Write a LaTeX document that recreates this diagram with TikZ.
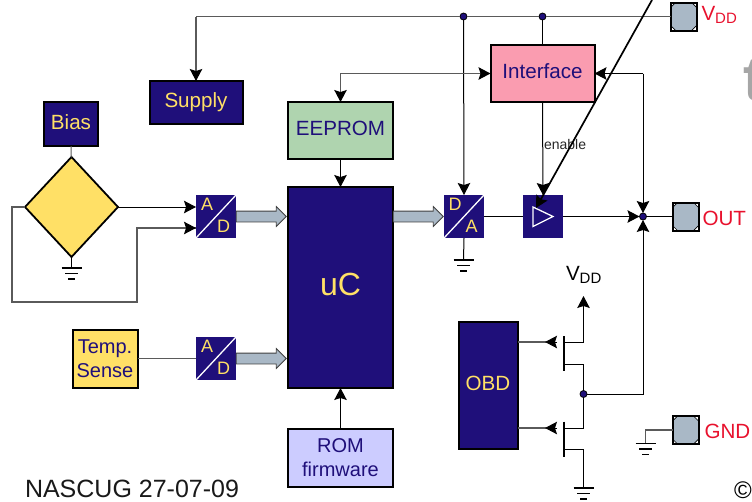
\documentclass[tikz,border=0pt]{standalone}
\usepackage{fontspec}
\setmainfont{Liberation Sans}
\usepackage{xcolor}
\usetikzlibrary{positioning,calc,arrows.meta,shapes.geometric,shapes.arrows}
\definecolor{navy}{HTML}{1F0F7A}
\definecolor{geel}{HTML}{FFE066}
\definecolor{roze}{HTML}{FA9CB0}
\definecolor{groen}{HTML}{AFD4AF}
\definecolor{lila}{HTML}{CCCCFF}
\definecolor{leigrijs}{HTML}{A9B8C6}
\definecolor{draad}{HTML}{5A5A5A}
\definecolor{rood}{HTML}{E8112D}
\newcommand{\gnd}[1]{%
  \draw[line width=1.3pt] ($(#1)+(-10,0)$) -- ++(20,0);
  \draw[line width=1.3pt] ($(#1)+(-6.5,5.5)$) -- ++(13,0);
  \draw[line width=1.3pt] ($(#1)+(-3.5,11)$) -- ++(7,0);
}
\begin{document}
\begin{tikzpicture}[
      x=1pt,y=-1pt,
      every node/.style={font=\fontsize{20.6}{23}\selectfont,inner sep=0pt,outer sep=0pt},
      box/.style={draw=black,line width=2pt,text=navy,align=center},
      dark/.style={box,fill=navy,text=geel},
      oneline/.style={text height=15pt,text depth=5pt},
      conv/.style={fill=navy,minimum width=40pt,minimum height=43pt},
      pad/.style={draw=black,line width=2pt,fill=white,minimum width=26pt,minimum height=28pt,
        path picture={
          \fill[leigrijs,draw=black,line width=.7pt]
            ($(path picture bounding box.north west)+(5,0)$) -- ($(path picture bounding box.north east)+(-5,0)$)
            -- ($(path picture bounding box.north east)+(0,5)$) -- ($(path picture bounding box.south east)+(0,-5)$)
            -- ($(path picture bounding box.south east)+(-5,0)$) -- ($(path picture bounding box.south west)+(5,0)$)
            -- ($(path picture bounding box.south west)+(0,-5)$) -- ($(path picture bounding box.north west)+(0,5)$) -- cycle;
        }},
      padlbl/.style={text=rood,anchor=west},
      dot/.style={circle,fill=navy,draw=black,line width=.8pt,minimum size=7pt},
      wire/.style={line width=1pt,black},
      gwire/.style={line width=1.1pt,draw=draad},
      fat/.style={single arrow,draw=black!75,line width=.8pt,fill=leigrijs,minimum height=50pt,
        inner ysep=5pt,inner xsep=0pt,single arrow head extend=4.5pt,single arrow head indent=0pt},
      tip/.style={-{Stealth[length=12pt,width=12.5pt,inset=2pt,color=black]}},
      pit/.style={{Stealth[length=12pt,width=12.5pt,inset=2pt,color=black]}-},
      bar/.style={line width=1.6pt,black},
    ]
  \useasboundingbox (0,0) rectangle (752,501);

  \node[dark,oneline,minimum width=54pt,minimum height=44pt] (bias) at (71,124) {Bias};
  \node[diamond,draw=black,line width=1.8pt,fill=geel,minimum width=93pt,minimum height=100pt] (det) at (71.5,207) {};
  \node[dark,minimum width=93pt,minimum height=43pt] (supply) at (196,102.5) {Supply};
  \node[box,oneline,fill=groen,minimum width=105pt,minimum height=57pt] (eeprom) at (340.5,130.5) {EEPROM};
  \node[dark,minimum width=105pt,minimum height=201pt,text height=23pt,text depth=8pt,font=\fontsize{32}{36}\selectfont] (uc) at (340.5,287.5) {uC};
  \node[box,fill=lila,minimum width=105pt,minimum height=58pt,font=\fontsize{20}{24}\selectfont] (rom) at (340.5,458) {ROM\\firmware};
  \node[box,fill=geel,minimum width=65pt,minimum height=58pt,font=\fontsize{20}{24}\selectfont] (temp) at (105,358.5) {Temp.\\Sense};
  \node[box,oneline,fill=roze,minimum width=104pt,minimum height=57pt] (iface) at (542.5,73.5) {Interface};
  \node[dark,oneline,minimum width=59pt,minimum height=127pt] (obd) at (488,385) {OBD};

  % omzetters
  \foreach \nm/\xc/\yc/\up/\lo in {ad1/216/216.5/A/D,ad2/216/358.5/A/D,da/464/216.5/D/A}{
    \node[conv] (\nm) at (\xc,\yc) {};
    \draw[white,line width=1.3pt] (\nm.south west) -- (\nm.north east);
    \node[text=geel,font=\fontsize{18}{20}\selectfont] at ($(\nm)+(-9,-12.5)$) {\up};
    \node[text=geel,font=\fontsize{18}{20}\selectfont] at ($(\nm)+(7.5,9.5)$) {\lo};
  }
  \node[conv] (buf) at (543,216.5) {};
  \draw[white,line width=1.3pt,line join=miter] ($(buf)+(-10,-9.5)$) -- ($(buf)+(10,0)$) -- ($(buf)+(-10,10)$) -- cycle;

  \node[fat] (bus1) at (258.5,216.5) {};
  \node[fat] (bus2) at (258.5,358.5) {};
  \node[fat] (bus3) at (415.5,216.5) {};

  \node[pad] (pvdd) at (683.5,16.5) {};
  \node[pad] (pout) at (685.5,216.5) {};
  \node[pad] (pgnd) at (685.5,430) {};
  \node[padlbl] (lvdd) at (701.5,15) {V\raisebox{-3.5pt}{\fontsize{15}{15}\selectfont DD}};
  \node[padlbl] (lout) at (702.5,218) {OUT};
  \node[padlbl] (lgnd) at (704.5,431) {GND};

  \node[dot] (n1) at (463.5,16.5) {};
  \node[dot] (n2) at (542.5,16.5) {};
  \node[dot] (n3) at (643,216.5) {};
  \node[dot] (n4) at (583.5,394) {};

  \coordinate (kink) at (12,207);
  \coordinate (kink2) at (12,302);
  \coordinate (kink3) at (137,302);
  \coordinate (kink4) at (137,228);
  \coordinate (in2) at (196,228);
  \coordinate (railend) at (196,16.5);
  \coordinate (fork) at (462,73.5);
  \coordinate (back) at (643,73.5);
  \coordinate (top) at (652,0);
  \coordinate (tp) at (536,208);
  \coordinate (g1) at (71.5,268);
  \coordinate (g2) at (463.5,260);
  \coordinate (g3) at (583.5,488);
  \coordinate (g4) at (645.5,443.5);

  % voeding en bus
  \draw[gwire] (pvdd) -- (n2) -- (n1) -- (railend);
  \draw[gwire,tip] (railend) -- (supply.north);
  \draw[wire,tip] (n1) -- (da.north);
  \draw[wire] (n2) -- (iface.north);
  \draw[gwire,pit] (eeprom.north) |- (fork);
  \draw[gwire,tip] (fork) -- (iface.west);
  \draw[wire,tip] (eeprom.south) -- (uc.north);
  \draw[wire,tip] (rom.north) -- (uc.south);
  \draw[wire,tip] (iface.south) -- (buf.north);
  \node[font=\fontsize{14}{16}\selectfont,text=black!85,anchor=west] (enable) at (544,144) {enable};
  \draw[line width=1.7pt,tip] (top) -- (tp);

  % ingangen
  \draw[gwire] (bias) -- (det);
  \draw[wire,tip] (det.east) -- (ad1.west |- det.east);
  \draw[gwire] (det.west) -- (kink) -- (kink2) -- (kink3) -- (kink4) -- (in2);
  \draw[gwire,tip] (kink4) -- (in2);
  \draw[gwire] (temp) -- (ad2);
  \draw[wire] (det.south) -- (g1);
  \gnd{g1}
  \draw[wire] (da.south) -- (g2);
  \gnd{g2}

  % uitgang
  \draw[wire] (da) -- (buf);
  \draw[wire,tip] (buf) -- (n3);
  \draw[wire] (n3) -- (pout);
  \draw[wire,tip] (back) -- (n3);
  \draw[wire,tip] (back) -- (iface.east);
  \draw[wire,tip] (n4) -| (n3);

  % uitgangstrap
  \coordinate (gate1) at (518,342);
  \coordinate (gate2) at (518,428);
  \draw[gwire] (gate1) -- (546,342);
  \draw[gwire] (gate2) -- (546,428);
  \draw[wire,pit] (545,342) -- (557,342);
  \draw[wire,pit] (545,428) -- (557,428);
  \draw[bar] (564,336) -- (564,371);
  \draw[bar] (564,421.5) -- (564,457);
  \draw[wire,tip] (564,342.5) -- (583.5,342.5) -- (583.5,296);
  \draw[wire] (564,364) -- (583.5,364) -- (n4);
  \draw[wire] (n4) -- (583.5,428) -- (564,428);
  \draw[wire] (564,449.5) -- (583.5,449.5) -- (g3);
  \gnd{g3}
  \node[text=black,anchor=west] (lvdd2) at (566,275) {V\raisebox{-3.5pt}{\fontsize{15}{15}\selectfont DD}};
  \draw[gwire] (pgnd) -- (g4 |- pgnd) -- (g4);
  \gnd{g4}

  \node[anchor=base west,font=\fontsize{25}{28}\selectfont,text=black!90] (stamp) at (25,497) {NASCUG 27-07-09};
  \node[anchor=base west,font=\fontsize{24}{28}\selectfont,text=black] (copy) at (734,498) {©};
  \node[anchor=base west,font=\bfseries\fontsize{62}{62}\selectfont,text=black!35] (cut) at (743,100) {t};
\end{tikzpicture}
\end{document}
